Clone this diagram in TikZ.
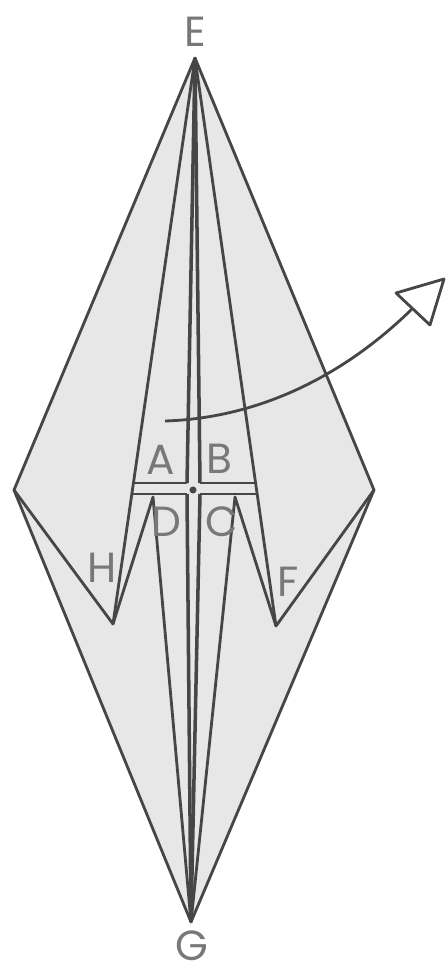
\documentclass[tikz,border=0pt]{standalone}
\usepackage{fontspec}
\setmainfont{Poppins}
\definecolor{paperfill}{RGB}{231,231,231}
\definecolor{foldline}{RGB}{70,70,70}
\definecolor{labelgray}{RGB}{120,120,120}
\begin{document}
\begin{tikzpicture}[
  x=0.02cm, y=-0.02cm,
  fold/.style={draw=foldline, line width=1.6pt, line join=round},
  spine/.style={fold, line width=2pt},
  lab/.style={text=labelgray, inner sep=0pt, font=\fontsize{24}{24}\selectfont}]
\useasboundingbox (0,0) rectangle (448,975);
% corners of the paper
\coordinate (e) at (195,58);
\coordinate (g) at (191,922);
\coordinate (w) at (14,490);
\coordinate (o) at (374,490);
\coordinate (h) at (113,624);
\coordinate (f) at (276,626);
% upper and lower edge of the cross
\coordinate (tl) at (132,483);\coordinate (tm) at (187,483);
\coordinate (tn) at (200,483);\coordinate (tr) at (256,483);
\coordinate (bl) at (132,494);\coordinate (bm) at (187,494);
\coordinate (bn) at (200,494);\coordinate (br) at (256,494);
\coordinate (dt) at (153,497);\coordinate (ct) at (235,497);
\fill[paperfill] (e)--(o)--(g)--(w)--cycle;
\draw[fold] (e)--(o)--(g)--(w)--cycle;
\draw[fold] (w)--(h)--(dt)--(g);
\draw[fold] (o)--(f)--(ct)--(g);
\draw[fold] (e)--(h);\draw[fold] (e)--(f);
\draw[spine] (e)--(tm);\draw[spine] (e)--(tn);
\draw[spine] (bm)--(g);\draw[spine] (bn)--(g);
\draw[fold] (tl)--(tm);\draw[fold] (tn)--(tr);
\draw[fold] (bl)--(bm);\draw[fold] (bn)--(br);
\node[circle, fill=foldline, inner sep=0pt, minimum size=4pt] (mid) at (193,490){};
\node[lab] (le) at (195,32){E};
\node[lab] (lg) at (192,946){G};
\node[lab] (la) at (161,460){A};
\node[lab] (lb) at (219,459){B};
\node[lab] (ld) at (166,522){D};
\node[lab] (lc) at (222,522){C};
\node[lab] (lh) at (102,568){H};
\node[lab] (lf) at (288,582){F};
% arrow out of the pocket
\coordinate (as) at (165,421);
\coordinate (ab) at (413,308);
\coordinate (at) at (444,279);
\coordinate (au) at (396,293);
\coordinate (av) at (430,325);
\draw[fold] (as) .. controls (260,418) and (345,375) .. (ab);
\draw[fold] (au)--(at)--(av)--cycle;
\end{tikzpicture}
\end{document}
